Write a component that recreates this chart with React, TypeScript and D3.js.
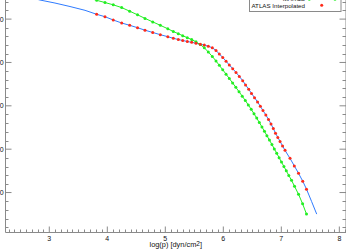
import React from "react";
import * as d3 from "d3";

// ATLAS interpolated (red points, on the blue curve)
const redLogP = [3.817, 3.96, 4.103, 4.248, 4.386, 4.521, 4.65, 4.783, 4.914, 5.043, 5.138, 5.224, 5.3, 5.379, 5.455, 5.529, 5.603, 5.672, 5.741, 5.81, 5.874, 5.931, 5.99, 6.047, 6.103, 6.162, 6.219, 6.276, 6.334, 6.383, 6.438, 6.486, 6.538, 6.59, 6.638, 6.684, 6.733, 6.779, 6.822, 6.862, 6.9, 6.94, 6.978, 7.021, 7.064, 7.15, 7.224, 7.297, 7.369, 7.434];
const redVal = [822.1, 811.0, 795.8, 782.0, 771.4, 760.3, 748.8, 738.2, 728.1, 718.8, 711.5, 705.9, 701.3, 696.7, 693.0, 688.4, 684.3, 680.1, 675.1, 667.7, 655.3, 639.1, 623.0, 606.0, 588.4, 571.4, 553.9, 535.5, 516.1, 496.3, 476.5, 457.1, 437.8, 417.9, 398.1, 377.9, 358.0, 337.3, 316.6, 294.9, 273.7, 254.4, 235.9, 215.2, 194.5, 157.6, 123.0, 88.5, 52.5, 15.7];

// Blue model curve extension beyond the red points
const blueHeadLogP = [2.581, 2.84, 3.098, 3.357, 3.616];
const blueHeadVal = [906.4, 888.0, 874.1, 858.0, 840.5];
const blueTailLogP = [7.521, 7.61];
const blueTailVal = [-40.6, -99.5];

// MARCS (green)
const greenLogP = [3.676, 3.817, 3.96, 4.103, 4.248, 4.386, 4.521, 4.65, 4.783, 4.914, 5.043, 5.138, 5.224, 5.3, 5.379, 5.455, 5.529, 5.603, 5.672, 5.741, 5.81, 5.874, 5.931, 5.99, 6.047, 6.103, 6.16, 6.216, 6.271, 6.326, 6.379, 6.431, 6.481, 6.529, 6.576, 6.621, 6.666, 6.709, 6.752, 6.795, 6.838, 6.879, 6.921, 6.962, 7.003, 7.045, 7.086, 7.129, 7.176, 7.228, 7.297, 7.367, 7.434];
const greenVal = [898.6, 886.6, 876.4, 865.8, 853.0, 836.4, 819.8, 803.2, 787.1, 771.4, 755.3, 742.8, 732.7, 723.5, 714.2, 705.5, 695.3, 682.4, 667.7, 648.3, 627.6, 606.9, 586.6, 566.3, 546.0, 525.8, 505.5, 485.2, 465.0, 444.7, 424.4, 404.1, 383.8, 363.6, 343.3, 323.0, 302.7, 282.5, 262.2, 241.9, 221.6, 201.4, 181.1, 160.8, 140.5, 120.3, 100.0, 78.8, 56.2, 28.6, -8.3, -52.1, -99.5];

const xTicks = [3, 4, 5, 6, 7, 8];
const yTicks = [0, 200, 400, 600, 800];
const xTitle = "log(p) [dyn/cm";
const legendLabels = ["MARCS", "ATLAS  Interpolated"];

const W = 346;
const H = 250;
const RED = "#ff2a1a";
const GREEN = "#22ee22";
const BLUE = "#2f7bff";
const AXIS = "#8a8a8a";
const FONT = "'Liberation Sans', Arial, sans-serif";

export default function App() {
  const x = d3.scaleLinear().domain([2.245, 8.115]).range([5.5, 346]);
  const y = d3.scaleLinear().domain([-184.3, 800]).range([232.5, 19.1]);
  const left = x.range()[0];
  const right = x.range()[1];
  const bottom = y.range()[0];

  const toPts = (xs: number[], ys: number[]) => xs.map((v, i) => [v, ys[i]] as [number, number]);
  const red = toPts(redLogP, redVal);
  const green = toPts(greenLogP, greenVal);
  const blue = [...toPts(blueHeadLogP, blueHeadVal), ...red, ...toPts(blueTailLogP, blueTailVal)];

  const line = d3.line<[number, number]>().x((d) => x(d[0])).y((d) => y(d[1]));

  const xMinor = d3.range(23, 82).map((v) => v / 10).filter((v) => Math.abs(v - Math.round(v)) > 1e-6);
  const yMinor = d3.range(-160, 1041, 40).filter((v) => v % 200 !== 0);
  const yMajorAll = [...yTicks, 1000];

  return (
    <svg width={W} height={H} style={{ position: "absolute", left: 0, top: 0, background: "#fff" }}>
      <defs>
        <clipPath id="plot">
          <rect x={left} y={-100} width={right - left} height={bottom + 100} />
        </clipPath>
      </defs>
      {/* axes */}
      <g stroke={AXIS} strokeWidth={1} fill="none">
        <line x1={left} x2={left} y1={-10} y2={bottom} />
        <line x1={left} x2={right} y1={bottom} y2={bottom} />
        <line x1={right} x2={right} y1={-10} y2={bottom} />
        {xTicks.map((t) => (
          <line key={"xM" + t} x1={x(t)} x2={x(t)} y1={bottom} y2={bottom - 6} />
        ))}
        {xMinor.map((t) => (
          <line key={"xm" + t} x1={Math.round(x(t)) + 0.5} x2={Math.round(x(t)) + 0.5} y1={bottom} y2={bottom - 3} />
        ))}
        {yMajorAll.map((t) => (
          <g key={"yM" + t}>
            <line x1={left} x2={left + 6} y1={y(t)} y2={y(t)} />
            <line x1={right} x2={right - 6.5} y1={y(t)} y2={y(t)} />
          </g>
        ))}
        {yMinor.map((t) => (
          <g key={"ym" + t}>
            <line x1={left} x2={left + 3} y1={Math.round(y(t)) + 0.5} y2={Math.round(y(t)) + 0.5} />
            <line x1={right} x2={right - 3.5} y1={Math.round(y(t)) + 0.5} y2={Math.round(y(t)) + 0.5} />
          </g>
        ))}
      </g>
      <g fontFamily={FONT} fontSize={7} fill="#111">
        {xTicks.map((t) => (
          <text key={"xl" + t} x={x(t)} y={240.7} textAnchor="middle">
            {t}
          </text>
        ))}
        {yTicks.map((t) => (
          <text key={"yl" + t} x={3.6} y={y(t) + 2.5} textAnchor="end">
            {t}
          </text>
        ))}
        <text x={(left + right) / 2} y={247.3} textAnchor="middle" fontSize={7.4}>
          {xTitle}
          <tspan dy={-1.5} fontSize={6.5}>2</tspan>
          <tspan dy={1.5}>]</tspan>
        </text>
      </g>
      {/* data */}
      <g clipPath="url(#plot)">
        <path d={line(blue) || ""} fill="none" stroke={BLUE} strokeWidth={1} />
        <path d={line(green) || ""} fill="none" stroke={GREEN} strokeWidth={1} />
        {green.map((d, i) => (
          <circle key={"g" + i} cx={x(d[0])} cy={y(d[1])} r={1.5} fill={GREEN} />
        ))}
        {red.map((d, i) => (
          <circle key={"r" + i} cx={x(d[0])} cy={y(d[1])} r={1.5} fill={RED} />
        ))}
      </g>
      {/* legend */}
      <g fontFamily={FONT} fontSize={6.2} fill="#111">
        <rect x={249.5} y={-20} width={91.5} height={31.5} fill="#fff" stroke={AXIS} strokeWidth={1} />
        <text x={305} y={1.2} textAnchor="end">{legendLabels[0]}</text>
        <line x1={309.3} x2={335} y1={-0.8} y2={-0.8} stroke={GREEN} strokeWidth={1} />
        <circle cx={309.3} cy={-0.8} r={1.5} fill={GREEN} />
        <circle cx={335} cy={-0.8} r={1.5} fill={GREEN} />
        <text x={305} y={8} textAnchor="end">{legendLabels[1]}</text>
        <circle cx={321.7} cy={5.3} r={1.5} fill={RED} />
      </g>
    </svg>
  );
}
